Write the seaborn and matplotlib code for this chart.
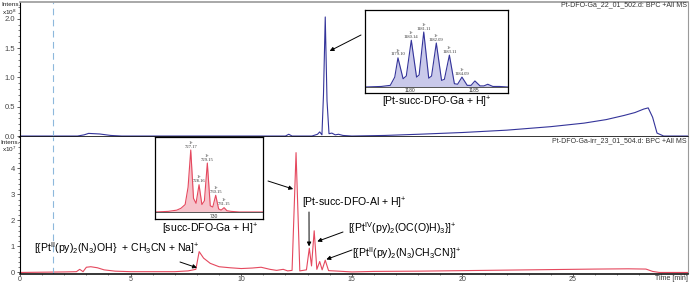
import numpy as np
import pandas as pd
import seaborn as sns
import matplotlib.pyplot as plt
from matplotlib.ticker import MultipleLocator

# Chromatogram 1 (Pt-DFO-Ga), intensity in units of 1e8
top_time = [0, 1.5, 2.6, 2.9, 3.1, 3.6, 4.1, 4.6, 8.0, 11.0,
            12.0, 12.15, 12.3, 13.2, 13.45, 13.55, 13.65, 13.72, 13.8, 13.88,
            13.97, 14.1, 14.25, 14.4, 14.6, 15.0, 16.5, 18.0, 20.0, 22.0,
            24.0, 25.5, 26.5, 27.3, 27.8, 28.2, 28.4, 28.6, 28.8, 29.1, 30.2]
top_int = [0, 0, 0, 0.02, 0.045, 0.035, 0.01, 0, 0, 0,
           0, 0.03, 0, 0, 0.03, 0.07, 0.02, 0.7, 2.03, 0.6,
           0.04, 0.05, 0.02, 0.03, 0.01, 0, 0.01, 0.03, 0.06, 0.1,
           0.16, 0.22, 0.28, 0.35, 0.4, 0.46, 0.48, 0.32, 0.05, 0, 0]

# Chromatogram 2 (Pt-DFO-Ga-irr), intensity in units of 1e7
bot_time = [0, 2.0, 2.55, 2.7, 2.85, 3.0, 3.2, 3.5, 3.8, 4.3,
            5.0, 6.0, 7.0, 7.6, 7.95, 8.1, 8.3, 8.6, 9.0, 9.5,
            10.0, 10.5, 10.9, 11.3, 11.6, 11.9, 12.1, 12.3, 12.48, 12.65,
            12.95, 13.08, 13.18, 13.3, 13.42, 13.55, 13.66, 13.8, 13.95, 14.4,
            15.0, 16.0, 18.0, 20.0, 22.0, 24.0, 26.0, 27.5, 28.3, 28.6,
            28.9, 30.2]
bot_int = [0, 0.02, 0.03, 0.12, 0.03, 0.2, 0.22, 0.18, 0.1, 0.05,
           0.03, 0.03, 0.03, 0.06, 0.12, 0.8, 0.55, 0.35, 0.22, 0.18,
           0.15, 0.17, 0.2, 0.12, 0.08, 0.12, 0.06, 0.08, 4.6, 0.06,
           0.1, 0.93, 0.25, 1.6, 0.12, 0.42, 0.1, 0.47, 0.07, 0.05,
           0.02, 0.04, 0.05, 0.07, 0.09, 0.11, 0.13, 0.14, 0.13, 0.04,
           0, 0]

# Inset spectra (relative intensity)
top_mz = [1176.5, 1177.8, 1178.5, 1178.85, 1179.10, 1179.5, 1179.75, 1180.14,
          1180.55, 1180.75, 1181.11, 1181.5, 1181.72, 1182.09, 1182.5, 1182.72,
          1183.11, 1183.5, 1183.75, 1184.09, 1184.5, 1184.8, 1185.1, 1185.5,
          1185.8, 1186.1, 1186.5, 1187.0, 1187.7]
top_rel = [0, 1, 3, 18, 53, 15, 20, 85,
           18, 22, 100, 16, 20, 80, 12, 14,
           58, 6, 5, 18, 3, 3, 11, 2,
           2, 5, 1, 1, 0]
top_peaks = [1179.10, 1180.14, 1181.11, 1182.09, 1183.11, 1184.09]
top_peak_h = [53, 85, 100, 80, 58, 18]

bot_mz = [722.9, 724.5, 725.5, 726.0, 726.5, 726.85, 727.17, 727.5, 727.8,
          728.16, 728.5, 728.8, 729.15, 729.5, 729.8, 730.15, 730.5, 730.8,
          731.15, 731.5, 732.0, 733.0, 735.8]
bot_rel = [0, 1, 3, 6, 12, 40, 100, 22, 14,
           44, 12, 18, 79, 10, 8, 27, 5, 3,
           7, 2, 1, 0, 0]
bot_peaks = [727.17, 728.16, 729.15, 730.15, 731.15]
bot_peak_h = [100, 44, 79, 27, 7]

blue = "#34349a"
red = "#e5485e"

sns.set_theme(style="white")
plt.rcParams['font.family'] = ['Liberation Sans', 'DejaVu Sans']
plt.rcParams['mathtext.fontset'] = 'custom'
plt.rcParams['mathtext.rm'] = 'Liberation Sans'
plt.rcParams['mathtext.it'] = 'Liberation Sans:italic'
plt.rcParams['mathtext.bf'] = 'Liberation Sans:bold'

W, H = 691, 283
fig = plt.figure(figsize=(W / 100, H / 100), dpi=100)


def box(l, t, r, b):
    return [l / W, 1 - b / H, (r - l) / W, (b - t) / H]


def fpx(x, y):
    return (x, H - y)


ax1 = fig.add_axes(box(20, 2, 688, 136.5))
ax2 = fig.add_axes(box(20, 137, 688, 273.5))

sns.lineplot(x=top_time, y=top_int, ax=ax1, color=blue, lw=0.8)
sns.lineplot(x=bot_time, y=bot_int, ax=ax2, color=red, lw=0.8)

ax1.set_xlim(0, 30.2)
ax2.set_xlim(0, 30.2)
ax1.set_ylim(-0.008, 2.285)
ax2.set_ylim(-0.04, 5.2)

for ax in (ax1, ax2):
    ax.axvline(1.5, color="#8db8dc", lw=0.8, ls=(0, (6, 4)))
    for s in ax.spines.values():
        s.set_color("#9a9a9a")
        s.set_linewidth(0.8)
    ax.spines['left'].set_color("black")
    ax.spines['bottom'].set_color("black")
    ax.spines['bottom'].set_linewidth(1.1)
    ax.tick_params(axis='y', which='major', direction='out', length=2.5, width=0.6,
                   labelsize=5.5, pad=1, colors="#444444", left=True)
    ax.tick_params(axis='y', which='minor', direction='out', length=1.3, width=0.5,
                   left=True, colors="#444444")
    ax.set_xlabel("")
    ax.set_ylabel("")

ax1.yaxis.set_major_locator(MultipleLocator(0.5))
ax1.yaxis.set_minor_locator(MultipleLocator(0.1))
ax1.yaxis.set_major_formatter(plt.FormatStrFormatter('%.1f'))
ax1.set_xticks([])
ax1.spines['top'].set_linewidth(1.2)

ax2.yaxis.set_major_locator(MultipleLocator(1))
ax2.yaxis.set_minor_locator(MultipleLocator(0.2))
ax2.set_yticks([0, 1, 2, 3, 4])
ax2.set_xticks([0, 5, 10, 15, 20, 25])
ax2.xaxis.set_minor_locator(MultipleLocator(1))
ax2.tick_params(axis='x', which='major', direction='out', length=1.5, width=0.6,
                labelsize=5, pad=0.3, colors="#444444", bottom=True)
ax2.tick_params(axis='x', which='minor', direction='out', length=1.0, width=0.5,
                bottom=True, colors="#444444")
ax2.spines['top'].set_visible(False)

# axis captions
cap = dict(fontsize=4.6, va='center', color="#222222")
fig.text(1 / W, 1 - 4 / H, "Intens.", ha='left', **cap)
fig.text(17 / W, 1 - 12 / H, "x10$^{8}$", ha='right', **cap)
fig.text(0 / W, 1 - 142 / H, "Intens.", ha='left', **cap)
fig.text(17 / W, 1 - 149.5 / H, "x10$^{7}$", ha='right', **cap)
fig.text(687 / W, 1 - 5 / H, "Pt-DFO-Ga_22_01_502.d: BPC +All MS", fontsize=5,
         va='center', ha='right', color="#333333")
fig.text(687 / W, 1 - 141 / H, "Pt-DFO-Ga-irr_23_01_504.d: BPC +All MS", fontsize=5,
         va='center', ha='right', color="#333333")
fig.text(688 / W, 1 - 278 / H, "Time [min]", fontsize=5, va='center', ha='right',
         color="#333333")

# insets
ins1 = fig.add_axes(box(365, 10, 508, 93))
sns.lineplot(x=top_mz, y=top_rel, ax=ins1, color=blue, lw=0.8)
ins1.fill_between(top_mz, top_rel, color="#c9c9ea", lw=0)
ins1.set_xlim(1176.53, 1187.68)
ins1.set_ylim(-10.9, 140)
ins1.set_xticks([1180, 1185])

ins2 = fig.add_axes(box(155, 137, 263, 219))
sns.lineplot(x=bot_mz, y=bot_rel, ax=ins2, color=red, lw=0.8)
ins2.fill_between(bot_mz, bot_rel, color="#f6c3cb", lw=0)
ins2.set_xlim(722.9, 735.8)
ins2.set_ylim(-11.3, 121)
ins2.set_xticks([730])

for ins, peaks, hts in ((ins1, top_peaks, top_peak_h), (ins2, bot_peaks, bot_peak_h)):
    ins.set_facecolor("white")
    ins.axhline(0, color="#555555", lw=0.7)
    ins.set_yticks([])
    ins.set_xlabel("")
    ins.set_ylabel("")
    ins.tick_params(axis='x', length=0, pad=-3.6, labelsize=3.6, colors="#333333")
    for s in ins.spines.values():
        s.set_color("black")
        s.set_linewidth(0.9)
    for p, h in zip(peaks, hts):
        ins.annotate("1+\n%.2f" % p, (p, h), xytext=(0, 1), textcoords='offset points',
                     ha='center', va='bottom', fontsize=3.3, linespacing=0.95,
                     color="#333333", family=['Liberation Serif', 'DejaVu Serif'])

# labels and arrows
lab = dict(fontsize=7.6, color="black", va='center')
fig.text(437 / W, 1 - 102 / H, "[Pt-succ-DFO-Ga + H]$^{+}$", ha='center', **lab)
fig.text(210 / W, 1 - 229 / H, "[succ-DFO-Ga + H]$^{+}$", ha='center', **lab)
fig.text(302 / W, 1 - 203 / H, "[Pt-succ-DFO-Al + H]$^{+}$", ha='left', **lab)
fig.text(348 / W, 1 - 228 / H, r"[{Pt$^{\mathrm{IV}}$(py)$_{2}$(OC(O)H)$_{3}$}]$^{+}$",
         ha='left', **lab)
fig.text(352 / W, 1 - 253 / H, r"[{Pt$^{\mathrm{II}}$(py)$_{2}$(N$_{3}$)CH$_{3}$CN}]$^{+}$",
         ha='left', **lab)
fig.text(34 / W, 1 - 248 / H,
         r"[{Pt$^{\mathrm{II}}$(py)$_{2}$(N$_{3}$)OH}  + CH$_{3}$CN + Na]$^{+}$",
         ha='left', **lab)

arrow = dict(arrowstyle='-|>', color='black', lw=0.7, mutation_scale=6,
             shrinkA=0, shrinkB=0)
ax1.annotate("", xy=(14.0, 1.45), xytext=fpx(361, 35), textcoords='figure pixels',
             arrowprops=arrow)
ax2.annotate("", xy=(12.35, 3.2), xytext=fpx(268, 181), textcoords='figure pixels',
             arrowprops=arrow)
ax2.annotate("", xy=(13.07, 1.0), xytext=fpx(309, 212), textcoords='figure pixels',
             arrowprops=arrow)
ax2.annotate("", xy=(13.44, 1.19), xytext=fpx(343, 232), textcoords='figure pixels',
             arrowprops=arrow)
ax2.annotate("", xy=(13.85, 0.5), xytext=fpx(352, 250), textcoords='figure pixels',
             arrowprops=arrow)
ax2.annotate("", xy=(8.0, 0.18), xytext=fpx(180, 262), textcoords='figure pixels',
             arrowprops=arrow)

fig.savefig("out.png", dpi=100)
